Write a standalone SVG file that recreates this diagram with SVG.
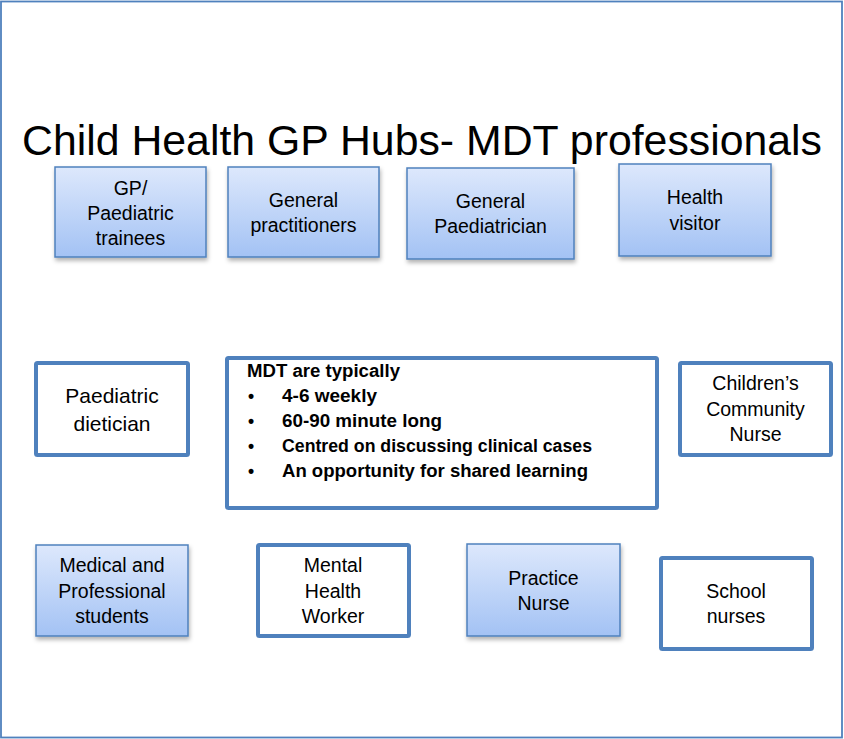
<svg xmlns="http://www.w3.org/2000/svg" width="844" height="739" viewBox="0 0 844 739">
<style>
text{font-family:"Liberation Sans",Arial,sans-serif;fill:#000}
.lbl{font-size:19.5px;text-anchor:middle}
.lbl2{font-size:21px;text-anchor:middle}
.b{font-size:17.5px;font-weight:bold}
.grad{fill:url(#g);stroke:#4f81bd;stroke-width:1.5;filter:url(#sh)}
.thick{fill:#fff;stroke:#4f81bd;stroke-width:4}
</style>
<defs>
<linearGradient id="g" x1="0" y1="0" x2="0" y2="1">
<stop offset="0" stop-color="#dde8fc"/>
<stop offset="1" stop-color="#a3c2f4"/>
</linearGradient>
<filter id="sh" x="-10%" y="-10%" width="130%" height="130%">
<feDropShadow dx="1" dy="3" stdDeviation="2" flood-color="#000" flood-opacity="0.3"/>
</filter>
</defs>
<rect x="0" y="0" width="844" height="739" fill="#fff"/>
<rect x="1" y="1.5" width="841" height="736" fill="none" stroke="#4f81bd" stroke-width="1.8"/>
<text x="422" y="155" font-size="42" text-anchor="middle" textLength="800" lengthAdjust="spacingAndGlyphs">Child Health GP Hubs- MDT professionals</text>
<g id="connectors"></g>
<g id="gp-trainees"><rect class="grad" x="55" y="167" width="151" height="90"/>
<text class="lbl" x="130.5" y="195">GP/</text><text class="lbl" x="130.5" y="220">Paediatric</text><text class="lbl" x="130.5" y="245">trainees</text></g>
<g id="general-practitioners"><rect class="grad" x="228" y="167" width="151" height="90"/>
<text class="lbl" x="303.5" y="207">General</text><text class="lbl" x="303.5" y="232">practitioners</text></g>
<g id="general-paediatrician"><rect class="grad" x="407" y="168" width="167" height="91"/>
<text class="lbl" x="490.5" y="208">General</text><text class="lbl" x="490.5" y="233">Paediatrician</text></g>
<g id="health-visitor"><rect class="grad" x="619" y="164" width="152" height="92"/>
<text class="lbl" x="695" y="204">Health</text><text class="lbl" x="695" y="230">visitor</text></g>
<g id="paediatric-dietician"><rect class="thick" x="36" y="363" width="152" height="92" rx="1.5"/>
<text class="lbl2" x="112" y="403">Paediatric</text><text class="lbl2" x="112" y="431">dietician</text></g>
<g id="mdt"><rect class="thick" x="227" y="358" width="430" height="150" rx="1.5"/>
<text class="b" x="247" y="377" textLength="153" lengthAdjust="spacingAndGlyphs">MDT are typically</text>
<text class="b" x="248" y="402">•</text><text class="b" x="282" y="402" textLength="95" lengthAdjust="spacingAndGlyphs">4-6 weekly</text>
<text class="b" x="248" y="427">•</text><text class="b" x="282" y="427" textLength="160" lengthAdjust="spacingAndGlyphs">60-90 minute long</text>
<text class="b" x="248" y="452">•</text><text class="b" x="282" y="452" textLength="310" lengthAdjust="spacingAndGlyphs">Centred on discussing clinical cases</text>
<text class="b" x="248" y="477">•</text><text class="b" x="282" y="477" textLength="306" lengthAdjust="spacingAndGlyphs">An opportunity for shared learning</text></g>
<g id="childrens-community-nurse"><rect class="thick" x="680" y="363" width="151" height="92" rx="1.5"/>
<text class="lbl" x="755.5" y="390">Children’s</text><text class="lbl" x="755.5" y="416">Community</text><text class="lbl" x="755.5" y="441">Nurse</text></g>
<g id="medical-students"><rect class="grad" x="36" y="545" width="152" height="91"/>
<text class="lbl" x="112" y="572">Medical and</text><text class="lbl" x="112" y="598">Professional</text><text class="lbl" x="112" y="623">students</text></g>
<g id="mental-health-worker"><rect class="thick" x="258" y="545" width="151" height="91" rx="1.5"/>
<text class="lbl" x="333" y="572">Mental</text><text class="lbl" x="333" y="598">Health</text><text class="lbl" x="333" y="623">Worker</text></g>
<g id="practice-nurse"><rect class="grad" x="467" y="544" width="153" height="92"/>
<text class="lbl" x="543.5" y="585">Practice</text><text class="lbl" x="543.5" y="610">Nurse</text></g>
<g id="school-nurses"><rect class="thick" x="661" y="558" width="151" height="91" rx="1.5"/>
<text class="lbl" x="736" y="598">School</text><text class="lbl" x="736" y="623">nurses</text></g>
</svg>
